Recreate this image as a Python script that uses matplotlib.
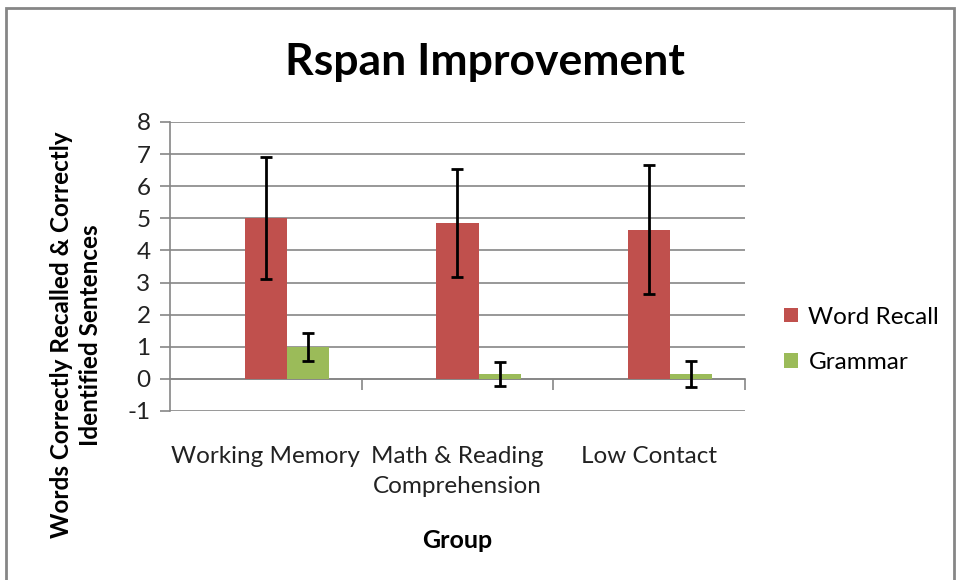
import matplotlib.pyplot as plt
from matplotlib.patches import Rectangle
from matplotlib.transforms import blended_transform_factory
import numpy as np

plt.rcParams['font.family'] = ['Lato', 'DejaVu Sans']
plt.rcParams['axes.unicode_minus'] = False

# Data
groups = ['Working Memory', 'Math & Reading\nComprehension', 'Low Contact']
word_recall = [5.0, 4.85, 4.65]
word_recall_err = [1.9, 1.68, 2.0]
grammar = [1.0, 0.16, 0.16]
grammar_err = [0.43, 0.38, 0.4]

red = '#c0504d'
green = '#9bbb59'
grey = '#868686'

fig = plt.figure(figsize=(9.56, 5.8), dpi=100)
ax = fig.add_axes([0.1778, 0.2914, 0.6015, 0.4983])

x = np.arange(len(groups))
w = 0.22
ekw = dict(ecolor='black', elinewidth=2, capsize=4, capthick=2, zorder=4)
ax.bar(x, word_recall, w, color=red, label='Word Recall', zorder=3,
       yerr=word_recall_err, error_kw=ekw)
ax.bar(x + w, grammar, w, color=green, label='Grammar', zorder=3,
       yerr=grammar_err, error_kw=ekw)

ax.set_ylim(-1, 8)
ax.set_xlim(-0.5, 2.5)
ax.set_yticks(range(-1, 9))
ax.yaxis.grid(True, color=grey, linewidth=1.2, zorder=0)

for s in ['top', 'right']:
    ax.spines[s].set_visible(False)
ax.spines['left'].set_color(grey)
ax.spines['left'].set_linewidth(1.2)
ax.spines['bottom'].set_position(('data', 0))
ax.spines['bottom'].set_color(grey)
ax.spines['bottom'].set_linewidth(1.2)
ax.set_xticks([0.5, 1.5, 2.5])
ax.set_xticklabels([])
ax.tick_params(axis='x', direction='out', length=8, color=grey, width=1.2)
ax.tick_params(axis='y', direction='out', length=7, color=grey, width=1.2,
               labelsize=17.5, pad=7, labelcolor='#222222')

# category names sit below the plot, under the -1 line
trans = blended_transform_factory(ax.transData, ax.transAxes)
for xi, g in zip(x, groups):
    ax.text(xi, -0.12, g, transform=trans, ha='center', va='top',
            fontsize=17.5, color='#222222', linespacing=1.55)

fig.text(485 / 956, 1 - 62 / 580, 'Rspan Improvement',
         ha='center', va='center', fontsize=32, fontweight='bold')
fig.text(457 / 956, 1 - 540 / 580, 'Group', ha='center', va='center',
         fontsize=18, fontweight='bold')
fig.text(76 / 956, 1 - 335 / 580,
         'Words Correctly Recalled & Correctly\nIdentified Sentences',
         ha='center', va='center', rotation=90, fontsize=17.5,
         fontweight='bold', linespacing=1.35)

ax.legend(loc='center left', bbox_to_anchor=(1.03, 0.246), frameon=False,
          fontsize=17.5, handlelength=0.55, handleheight=0.55,
          labelspacing=1.0, handletextpad=0.45)

fig.patches.append(Rectangle((6 / 956, -0.1), 948 / 956, 1.1 - 8 / 580,
                             transform=fig.transFigure, fill=False,
                             edgecolor=grey, linewidth=2))

fig.savefig('out.png', dpi=100)
